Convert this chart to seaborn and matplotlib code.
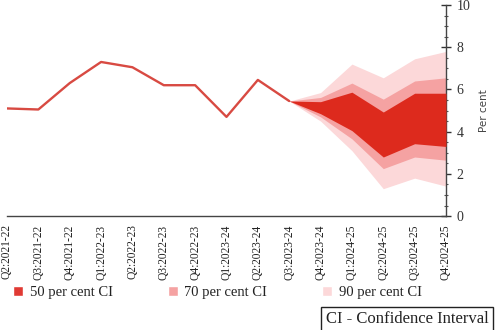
import matplotlib
matplotlib.use("Agg")
import matplotlib.pyplot as plt
from matplotlib.patches import Patch
from matplotlib.ticker import MultipleLocator
import seaborn as sns
import pandas as pd

quarters = ["Q2:2021-22", "Q3:2021-22", "Q4:2021-22", "Q1:2022-23", "Q2:2022-23",
            "Q3:2022-23", "Q4:2022-23", "Q1:2023-24", "Q2:2023-24", "Q3:2023-24",
            "Q4:2023-24", "Q1:2024-25", "Q2:2024-25", "Q3:2024-25", "Q4:2024-25"]
actual = [5.1, 5.05, 6.3, 7.3, 7.05, 6.2, 6.2, 4.7, 6.45, 5.45]

fan_quarters = quarters[9:]
ci50_lo = [5.45, 4.85, 4.05, 2.8, 3.43, 3.3]
ci50_hi = [5.45, 5.42, 5.87, 4.93, 5.82, 5.82]
ci70_lo = [5.45, 4.7, 3.66, 2.25, 2.8, 2.65]
ci70_hi = [5.45, 5.62, 6.3, 5.54, 6.4, 6.55]
ci90_lo = [5.45, 4.5, 3.1, 1.3, 1.8, 1.42]
ci90_hi = [5.45, 5.85, 7.2, 6.55, 7.45, 7.8]

legend_labels = ["50 per cent CI", "70 per cent CI", "90 per cent CI"]

sns.set_style("white")
plt.rcParams["font.family"] = ["Liberation Serif", "DejaVu Serif"]

c_line = "#d84a42"
c50, c70, c90 = "#dd2a1d", "#f5a2a2", "#fcd8d9"

fig = plt.figure(figsize=(5.0, 3.3), dpi=100)
ax = fig.add_axes([0.014, 0.345, 0.878, 0.64])

pos = {q: i for i, q in enumerate(quarters)}
fx = [pos[q] for q in fan_quarters]
ax.fill_between(fx, ci90_lo, ci90_hi, color=c90, lw=0, zorder=1)
ax.fill_between(fx, ci70_lo, ci70_hi, color=c70, lw=0, zorder=2)
ax.fill_between(fx, ci50_lo, ci50_hi, color=c50, lw=0, zorder=3)

df = pd.DataFrame({"x": [pos[q] for q in quarters[:len(actual)]], "y": actual})
sns.lineplot(data=df, x="x", y="y", ax=ax, color=c_line, lw=1.7, zorder=4)

ax.set_xlim(0, len(quarters) - 1)
ax.set_ylim(0, 10)
ax.set_xticks(range(len(quarters)))
ax.set_xticklabels(quarters, rotation=90, fontsize=8.3, color="#222222")
ax.set_xlabel("")

ax.yaxis.tick_right()
ax.yaxis.set_label_position("right")
ax.yaxis.set_major_locator(MultipleLocator(2))
ax.yaxis.set_minor_locator(MultipleLocator(0.5))
ax.tick_params(axis="y", which="major", direction="inout", length=7, width=1,
               labelsize=10, colors="#333333", pad=4, left=False, right=True)
ax.tick_params(axis="y", which="minor", direction="inout", length=3.5, width=0.8,
               colors="#555555", left=False, right=True)
ax.tick_params(axis="x", direction="out", length=4, width=1, colors="#333333",
               labelcolor="#222222", pad=2)
ax.set_ylabel("Per cent", fontsize=7.5, color="#444444", labelpad=6,
              family=["DejaVu Sans"])

for s in ["left", "top"]:
    ax.spines[s].set_visible(False)
for s in ["right", "bottom"]:
    ax.spines[s].set_color("#444444")
    ax.spines[s].set_linewidth(1.0)

handles = [Patch(facecolor="#e03a34"), Patch(facecolor=c70), Patch(facecolor=c90)]
fig.legend(handles, legend_labels, loc="center left", bbox_to_anchor=(0.0, 0.113),
           ncol=3, frameon=False, fontsize=10.5, handlelength=0.7, handleheight=0.7,
           handletextpad=0.45, columnspacing=3.75, labelcolor="#222222")

fig.text(0.814, 0.033, "CI - Confidence Interval", fontsize=12, ha="center", va="center",
         color="#222222",
         bbox=dict(boxstyle="square,pad=0.25", fc="white", ec="#222222", lw=1.0))

fig.savefig("out.png", dpi=100)
